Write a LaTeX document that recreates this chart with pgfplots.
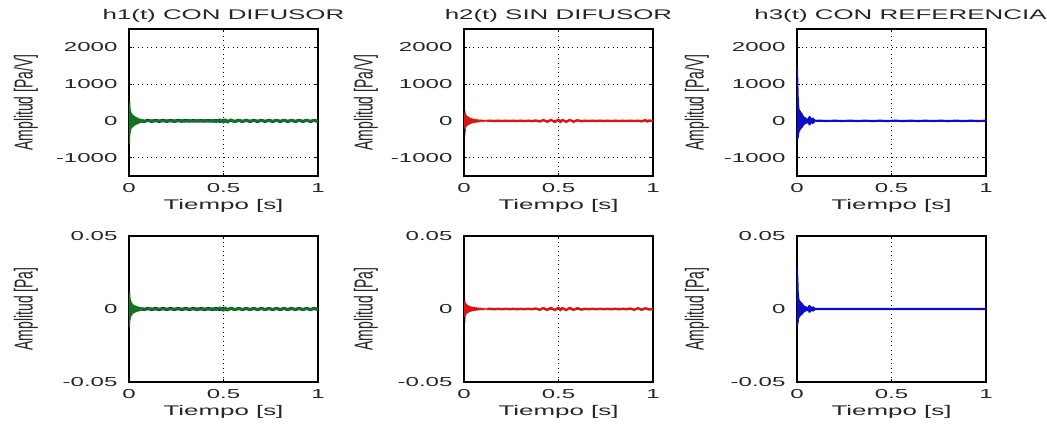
\documentclass[border=0pt]{standalone}
\usepackage{fontspec}
\setmainfont{Liberation Sans}
\usepackage{graphicx}
\usepackage{pgfplots}
\pgfplotsset{compat=1.18}
\newcommand{\sx}[1]{\scalebox{1.85}[1]{#1}}
\newcommand{\yl}[1]{\scalebox{1}[1.85]{#1}}
\definecolor{mgreen}{rgb}{0.08,0.45,0.12}
\definecolor{mblue}{rgb}{0.05,0.15,0.45}
\definecolor{mred}{rgb}{0.86,0.08,0.08}
\definecolor{bblue}{rgb}{0.05,0.05,0.78}
\pgfplotsset{
  mat/.style={scale only axis, width=189pt, xmin=0, xmax=1,
    scaled y ticks=false, scaled x ticks=false,
    xtick={0,0.5,1}, xticklabels={\sx{0},\sx{0.5},\sx{1}},
    grid=major, major grid style={black, line width=0.8pt, dash pattern=on 0.9pt off 3.6pt},
    axis line style={line width=1.3pt, black},
    tick style={black, line width=0.8pt}, major tick length=3pt, tick align=inside,
    every tick label/.append style={font=\fontsize{13}{15}\selectfont, text=black!85},
    xticklabel style={anchor=center, yshift=-12pt},
    yticklabel style={anchor=east, xshift=-8pt},
    xlabel={\sx{Tiempo [s]}},
    xlabel style={at={(axis description cs:0.5,0)}, anchor=center, yshift=-30pt, font=\fontsize{14}{16}\selectfont, text=black!85},
    title style={at={(axis description cs:0.5,1)}, anchor=center, yshift=7.5pt, font=\fontsize{14}{16}\selectfont, text=black!85},
    ylabel style={anchor=center, font=\fontsize{14}{16}\selectfont, text=black!85},
    every axis plot/.append style={no markers, line join=round, line width=1pt},
  },
  toprow/.style={height=147pt, ymin=-1500, ymax=2500, ytick={-1000,0,1000,2000},
    yticklabels={\sx{-1000},\sx{0},\sx{1000},\sx{2000}}, ylabel={\yl{Amplitud [Pa/V]}}},
  botrow/.style={height=146pt, ymin=-0.05, ymax=0.05, ytick={-0.05,0,0.05},
    yticklabels={\sx{-0.05},\sx{0},\sx{0.05}}, ylabel={\yl{Amplitud [Pa]}}},
}
\begin{document}
\begin{tikzpicture}
\useasboundingbox (0,0) rectangle (1047pt,-426pt);
% ---------- top left
\begin{axis}[mat, toprow, at={(129pt,-29pt)}, anchor=north west,
  title={\sx{h1(t) CON DIFUSOR}}, ylabel style={at={(axis description cs:-0.545,0.5)}}]
\addplot[mblue, line width=3pt] coordinates {(0.06,15)(0.08,-15)(0.10,15)(0.12,-15)(0.14,15)(0.16,-15)(0.18,15)(0.20,-15)(0.22,15)(0.24,-15)(0.26,15)(0.28,-12)(0.30,12)(0.32,-10)(0.34,10)(0.36,-10)(0.38,10)(0.40,-10)(0.42,10)(0.44,-10)(0.46,10)(0.48,-12)(0.50,12)(0.52,-12)(0.54,12)(0.56,-15)(0.58,15)(0.60,-15)(0.62,15)(0.64,-15)(0.66,15)(0.68,-15)(0.70,15)(0.72,-15)(0.74,15)(0.76,-15)(0.78,15)(0.80,-15)(0.82,15)(0.84,-15)(0.86,15)(0.88,-15)(0.90,15)(0.92,-15)(0.94,15)(0.96,-15)(0.98,15)(1.00,-15)};
\addplot[mgreen] coordinates {(0,0)(0.001,-200)(0.002,350)(0.003,-620)(0.004,500)(0.005,-420)(0.006,380)(0.007,-330)(0.008,300)(0.009,-280)(0.010,250)(0.011,-230)(0.012,220)(0.013,-200)(0.014,200)(0.015,-190)(0.016,180)(0.017,-175)(0.018,170)(0.019,-165)(0.020,160)(0.022,-150)(0.024,145)(0.026,-140)(0.028,130)(0.030,-125)(0.032,115)(0.034,-110)(0.036,100)(0.038,-95)(0.040,90)(0.043,-85)(0.046,80)(0.049,-72)(0.052,65)(0.055,-60)(0.058,55)(0.062,-50)(0.066,45)(0.070,-42)(0.075,38)(0.080,-35)(0.085,30)(0.090,-28)(0.095,25)(0.10,0)};
\addplot[mgreen, line width=2.6pt] coordinates {(0.10,0)(0.12,6)(0.14,-6)(0.16,6)(0.18,-6)(0.20,6)(0.22,-6)(0.24,6)(0.26,-8)(0.28,12)(0.30,-14)(0.32,14)(0.34,-14)(0.36,14)(0.38,-14)(0.40,14)(0.42,-14)(0.44,16)(0.46,-25)(0.48,35)(0.50,-40)(0.51,35)(0.52,-40)(0.54,30)(0.56,-20)(0.58,12)(0.60,-8)(0.62,8)(0.64,-8)(0.66,8)(0.68,-8)(0.70,8)(0.72,-8)(0.74,8)(0.76,-8)(0.78,10)(0.80,-10)(0.82,10)(0.84,-10)(0.86,10)(0.88,-10)(0.90,10)(0.92,-10)(0.94,10)(0.96,-10)(0.98,10)(1.00,-10)};
\end{axis}
% ---------- top middle
\begin{axis}[mat, toprow, at={(464pt,-29pt)}, anchor=north west,
  title={\sx{h2(t) SIN DIFUSOR}}, ylabel style={at={(axis description cs:-0.519,0.5)}}]
\addplot[black!80!red] coordinates {(0,0)(0.001,150)(0.002,-250)(0.003,290)(0.004,-390)(0.005,250)(0.006,-300)(0.007,200)(0.008,-150)(0.009,0)};
\addplot[mred] coordinates {(0,0)(0.001,-100)(0.002,180)(0.003,-200)(0.004,220)(0.005,-200)(0.006,190)(0.007,-180)(0.008,170)(0.009,-165)(0.010,160)(0.011,-155)(0.012,150)(0.013,-145)(0.014,140)(0.015,-135)(0.016,130)(0.017,-125)(0.018,120)(0.019,-115)(0.020,110)(0.022,-105)(0.024,100)(0.026,-95)(0.028,90)(0.030,-85)(0.032,80)(0.034,-75)(0.036,70)(0.038,-66)(0.040,62)(0.043,-58)(0.046,55)(0.049,-52)(0.052,50)(0.055,-48)(0.058,45)(0.062,-42)(0.066,40)(0.070,-38)(0.075,36)(0.080,-34)(0.085,32)(0.090,-30)(0.095,28)(0.10,-26)(0.105,24)(0.11,-20)(0.115,15)(0.12,0)};
\addplot[mred, line width=2.4pt] coordinates {(0.12,0)(0.14,5)(0.16,-5)(0.18,5)(0.20,-5)(0.22,5)(0.24,-5)(0.26,5)(0.28,-5)(0.30,5)(0.32,-5)(0.34,5)(0.36,-5)(0.38,10)(0.40,-18)(0.42,22)(0.44,-22)(0.46,25)(0.48,-28)(0.50,32)(0.51,-32)(0.52,28)(0.54,-25)(0.56,25)(0.58,-22)(0.60,18)(0.62,-10)(0.64,5)(0.66,-5)(0.68,5)(0.70,-5)(0.72,5)(0.74,-5)(0.76,5)(0.78,-5)(0.80,5)(0.82,-5)(0.84,5)(0.86,-5)(0.88,5)(0.90,-5)(0.92,5)(0.94,-12)(0.96,20)(0.97,-20)(0.98,12)(1.00,-5)};
\end{axis}
% ---------- top right
\begin{axis}[mat, toprow, at={(797pt,-29pt)}, anchor=north west,
  title={\sx{h3(t) CON REFERENCIA}}, title style={xshift=9pt}, ylabel style={at={(axis description cs:-0.529,0.5)}}]
\addplot[bblue, line width=1.3pt] coordinates {(0,0)(0.001,500)(0.002,-350)(0.003,1450)(0.004,-500)(0.005,900)(0.006,-450)(0.007,650)(0.008,-400)(0.009,400)(0.010,-320)(0.011,330)(0.012,-280)(0.013,300)(0.014,-260)(0.015,280)(0.016,-250)(0.017,260)(0.018,-230)(0.019,240)(0.020,-210)(0.022,220)(0.024,-190)(0.026,200)(0.028,-170)(0.030,160)(0.032,-140)(0.034,130)(0.036,-110)(0.038,100)(0.040,-90)(0.043,85)(0.046,-70)(0.049,65)(0.052,-55)(0.055,50)(0.058,-60)(0.061,100)(0.064,-110)(0.067,120)(0.070,-100)(0.073,90)(0.076,-60)(0.079,50)(0.082,-70)(0.085,80)(0.088,-60)(0.091,45)(0.094,-30)(0.097,20)(0.10,0)};
\addplot[bblue, line width=2.2pt] coordinates {(0.10,0)(0.12,3)(0.16,-3)(0.20,3)(0.24,-3)(0.28,3)(0.32,-3)(0.36,3)(0.40,-3)(0.44,3)(0.48,-3)(0.52,3)(0.56,-3)(0.60,3)(0.64,-3)(0.68,3)(0.72,-3)(0.76,3)(0.80,-3)(0.84,3)(0.88,-3)(0.92,3)(0.96,-3)(1.00,3)};
\end{axis}
% ---------- bottom left
\begin{axis}[mat, botrow, at={(129pt,-236pt)}, anchor=north west,
  ylabel style={at={(axis description cs:-0.545,0.5)}}]
\addplot[mblue, line width=3pt] coordinates {(0.06,0.0004)(0.08,-0.0004)(0.10,0.0004)(0.12,-0.0004)(0.14,0.0004)(0.16,-0.0004)(0.18,0.0004)(0.20,-0.0004)(0.22,0.0004)(0.24,-0.0004)(0.26,0.0004)(0.28,-0.0004)(0.30,0.0004)(0.32,-0.0004)(0.34,0.0004)(0.36,-0.0004)(0.38,0.0004)(0.40,-0.0004)(0.42,0.0004)(0.44,-0.0004)(0.46,0.0004)(0.48,-0.0004)(0.50,0.0004)(0.52,-0.0004)(0.54,0.0004)(0.56,-0.0004)(0.58,0.0004)(0.60,-0.0004)(0.62,0.0004)(0.64,-0.0004)(0.66,0.0004)(0.68,-0.0004)(0.70,0.0004)(0.72,-0.0004)(0.74,0.0004)(0.76,-0.0004)(0.78,0.0004)(0.80,-0.0004)(0.82,0.0004)(0.84,-0.0004)(0.86,0.0004)(0.88,-0.0004)(0.90,0.0004)(0.92,-0.0004)(0.94,0.0004)(0.96,-0.0004)(0.98,0.0004)(1.00,-0.0004)};
\addplot[mgreen] coordinates {(0,0)(0.001,-0.004)(0.002,0.008)(0.003,-0.012)(0.004,0.011)(0.005,-0.009)(0.006,0.008)(0.007,-0.007)(0.008,0.0065)(0.009,-0.006)(0.010,0.0055)(0.011,-0.005)(0.012,0.0048)(0.013,-0.0045)(0.014,0.0043)(0.015,-0.004)(0.016,0.0038)(0.017,-0.0036)(0.018,0.0034)(0.019,-0.0032)(0.020,0.003)(0.022,-0.0029)(0.024,0.0028)(0.026,-0.0027)(0.028,0.0025)(0.030,-0.0024)(0.032,0.0022)(0.034,-0.0021)(0.036,0.002)(0.038,-0.0019)(0.040,0.0018)(0.043,-0.0017)(0.046,0.0016)(0.049,-0.0015)(0.052,0.0014)(0.055,-0.0013)(0.058,0.0012)(0.062,-0.0011)(0.066,0.001)(0.070,-0.001)(0.075,0.0009)(0.080,-0.0009)(0.085,0.0008)(0.090,-0.0008)(0.095,0.0007)(0.10,0)};
\addplot[mgreen, line width=2.6pt] coordinates {(0.10,0)(0.12,0.0002)(0.14,-0.0002)(0.16,0.0001)(0.18,-0.0001)(0.20,0.0001)(0.22,-0.0001)(0.24,0.0001)(0.26,-0.0001)(0.28,0.0001)(0.30,-0.0001)(0.32,0.0001)(0.34,-0.0001)(0.36,0.0002)(0.38,-0.0002)(0.40,0.0002)(0.42,-0.0002)(0.44,0.0003)(0.46,-0.0005)(0.48,0.0008)(0.50,-0.0010)(0.51,0.0009)(0.52,-0.0009)(0.54,0.0007)(0.56,-0.0005)(0.58,0.0003)(0.60,-0.0003)(0.62,0.0003)(0.64,-0.0003)(0.66,0.0003)(0.68,-0.0003)(0.70,0.0003)(0.72,-0.0003)(0.74,0.0003)(0.76,-0.0003)(0.78,0.0003)(0.80,-0.0003)(0.82,0.0003)(0.84,-0.0003)(0.86,0.0003)(0.88,-0.0003)(0.90,0.0003)(0.92,-0.0003)(0.94,0.0003)(0.96,-0.0003)(0.98,0.0003)(1.00,-0.0003)};
\end{axis}
% ---------- bottom middle
\begin{axis}[mat, botrow, at={(464pt,-236pt)}, anchor=north west,
  ylabel style={at={(axis description cs:-0.519,0.5)}}]
\addplot[black!80!red] coordinates {(0,0)(0.001,0.004)(0.002,-0.006)(0.003,0.007)(0.004,-0.009)(0.005,0.005)(0.006,-0.005)(0.007,0.003)(0.008,0)};
\addplot[mred] coordinates {(0,0)(0.001,-0.003)(0.002,0.0045)(0.003,-0.005)(0.004,0.005)(0.005,-0.0048)(0.006,0.0046)(0.007,-0.0044)(0.008,0.0042)(0.009,-0.004)(0.010,0.0038)(0.011,-0.0036)(0.012,0.0034)(0.013,-0.0032)(0.014,0.003)(0.015,-0.0029)(0.016,0.0028)(0.017,-0.0027)(0.018,0.0026)(0.019,-0.0025)(0.020,0.0024)(0.022,-0.0023)(0.024,0.0022)(0.026,-0.0021)(0.028,0.002)(0.030,-0.0019)(0.032,0.0018)(0.034,-0.0017)(0.036,0.0016)(0.038,-0.0015)(0.040,0.0014)(0.043,-0.0013)(0.046,0.0013)(0.049,-0.0012)(0.052,0.0012)(0.055,-0.0011)(0.058,0.0011)(0.062,-0.001)(0.066,0.001)(0.070,-0.0009)(0.075,0.0009)(0.080,-0.0008)(0.085,0.0008)(0.090,-0.0007)(0.095,0.0007)(0.10,-0.0006)(0.105,0.0005)(0.11,-0.0004)(0.115,0.0003)(0.12,0)};
\addplot[mred, line width=2.4pt] coordinates {(0.12,0)(0.14,0.0001)(0.16,-0.0001)(0.18,0.0001)(0.20,-0.0001)(0.22,0.0001)(0.24,-0.0001)(0.26,0.0001)(0.28,-0.0001)(0.30,0.0001)(0.32,-0.0001)(0.34,0.0001)(0.36,-0.0001)(0.38,0.0003)(0.40,-0.0005)(0.42,0.0006)(0.44,-0.0006)(0.46,0.0007)(0.48,-0.0007)(0.50,0.0008)(0.51,-0.0008)(0.52,0.0007)(0.54,-0.0007)(0.56,0.0007)(0.58,-0.0006)(0.60,0.0006)(0.62,-0.0004)(0.64,0.0001)(0.66,-0.0001)(0.68,0.0001)(0.70,-0.0001)(0.72,0.0001)(0.74,-0.0001)(0.76,0.0001)(0.78,-0.0001)(0.80,0.0001)(0.82,-0.0001)(0.84,0.0001)(0.86,-0.0001)(0.88,0.0003)(0.90,-0.0005)(0.92,0.0005)(0.94,-0.0005)(0.96,0.0005)(0.98,-0.0004)(1.00,0.0002)};
\end{axis}
% ---------- bottom right
\begin{axis}[mat, botrow, at={(797pt,-236pt)}, anchor=north west,
  ylabel style={at={(axis description cs:-0.529,0.5)}}]
\addplot[bblue, line width=1.3pt] coordinates {(0,0)(0.001,0.012)(0.002,-0.006)(0.003,0.028)(0.004,-0.011)(0.005,0.018)(0.006,-0.009)(0.007,0.012)(0.008,-0.007)(0.009,0.008)(0.010,-0.006)(0.011,0.0065)(0.012,-0.0055)(0.013,0.006)(0.014,-0.005)(0.015,0.0055)(0.016,-0.005)(0.017,0.005)(0.018,-0.0045)(0.019,0.0048)(0.020,-0.0042)(0.022,0.0044)(0.024,-0.0038)(0.026,0.004)(0.028,-0.0034)(0.030,0.0032)(0.032,-0.0028)(0.034,0.0026)(0.036,-0.0022)(0.038,0.002)(0.040,-0.0018)(0.043,0.0017)(0.046,-0.0014)(0.049,0.0013)(0.052,-0.0011)(0.055,0.001)(0.058,-0.0012)(0.061,0.002)(0.064,-0.0022)(0.067,0.0024)(0.070,-0.002)(0.073,0.0018)(0.076,-0.0012)(0.079,0.001)(0.082,-0.0014)(0.085,0.0016)(0.088,-0.0012)(0.091,0.0009)(0.094,-0.0006)(0.097,0.0004)(0.10,0)};
\addplot[bblue, line width=2.2pt] coordinates {(0.10,0)(0.12,0.00005)(0.16,-0.00005)(0.20,0.00005)(0.24,-0.00005)(0.28,0.00005)(0.32,-0.00005)(0.36,0.00005)(0.40,-0.00005)(0.44,0.00005)(0.48,-0.00005)(0.52,0.00005)(0.56,-0.00005)(0.60,0.00005)(0.64,-0.00005)(0.68,0.00005)(0.72,-0.00005)(0.76,0.00005)(0.80,-0.00005)(0.84,0.00005)(0.88,-0.00005)(0.92,0.00005)(0.96,-0.00005)(1.00,0.00005)};
\end{axis}
\end{tikzpicture}
\end{document}
